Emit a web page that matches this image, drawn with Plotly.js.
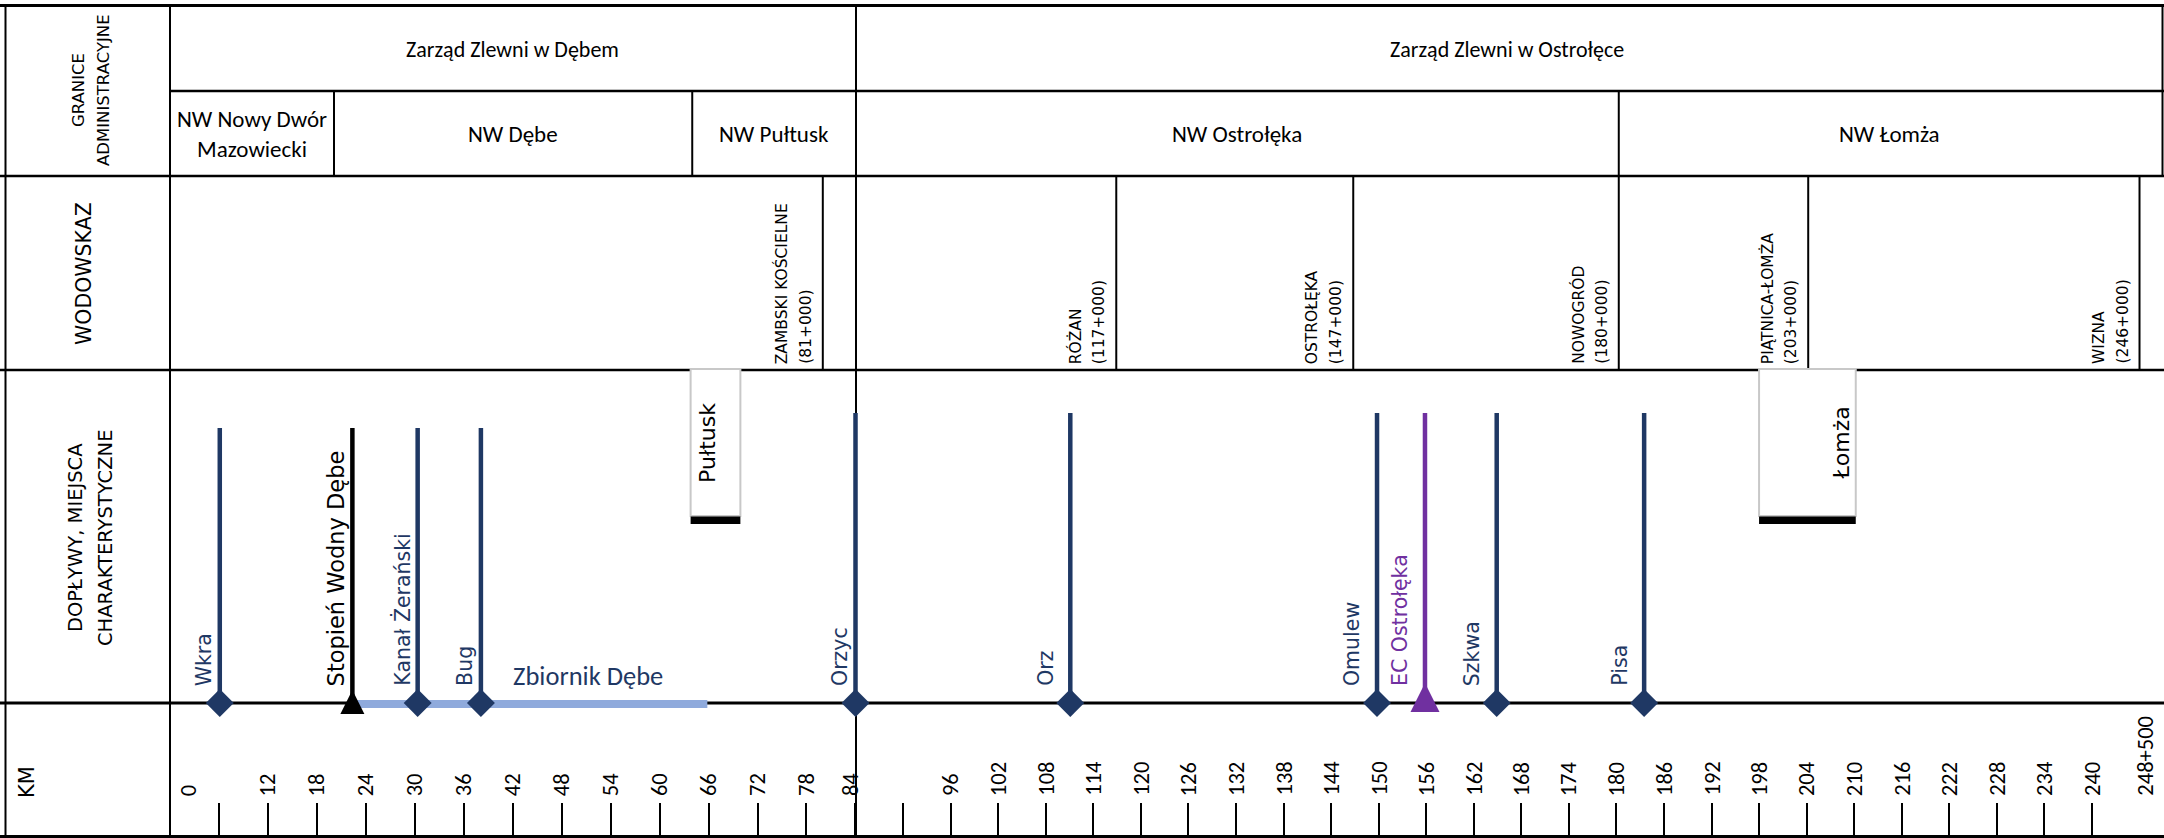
<!DOCTYPE html>
<html>
<head>
<meta charset="utf-8">
<script src="https://cdn.plot.ly/plotly-3.0.1.min.js"></script>
<style>
html,body{margin:0;padding:0;background:#ffffff;}
#chart{width:2164px;height:838px;}
</style>
</head>
<body>
<div id="chart"></div>
<script>
// ================= DATA =================
const zarzadNames = ['Zarząd Zlewni w Dębem', 'Zarząd Zlewni w Ostrołęce'];
const zarzadStartKm = [0, 84];
const zarzadEndKm = [84, 248.5];

const nwNames = ['NW Nowy Dwór<br>Mazowiecki', 'NW Dębe', 'NW Pułtusk', 'NW Ostrołęka', 'NW Łomża'];
const nwStartKm = [0, 20.1, 64.0, 84, 180.3];
const nwEndKm = [20.1, 64.0, 84, 180.3, 248.5];

const stationNames = ['ZAMBSKI KOŚCIELNE', 'RÓŻAN', 'OSTROŁĘKA', 'NOWOGRÓD', 'PIĄTNICA-ŁOMŻA', 'WIZNA'];
const stationKmLabels = ['(81+000)', '(117+000)', '(147+000)', '(180+000)', '(203+000)', '(246+000)'];
const stationKm = [80.0, 116.9, 146.8, 180.3, 204.2, 246.0];

const tribLeftNames = ['Wkra', 'Kanał Żerański', 'Bug'];
const tribLeftKm = [6.1, 30.35, 38.1];
const tribRightNames = ['Orzyc', 'Orz', 'Omulew', 'Szkwa', 'Pisa'];
const tribRightKm = [84.0, 111.1, 149.8, 164.9, 183.5];

const damNames = ['Stopień Wodny Dębe'];
const damKm = [22.35];
const plantNames = ['EC Ostrołęka'];
const plantKm = [155.85];

const reservoirNames = ['Zbiornik Dębe'];
const reservoirStartKm = [22.35];
const reservoirEndKm = [65.85];
const reservoirLabelKm = [51.2];

const townNames = ['Pułtusk', 'Łomża'];
const townStartKm = [63.8, 198.0];
const townEndKm = [69.9, 210.2];
const townLabelKm = [65.8, 208.4];

const kmTicksLeft = [6, 12, 18, 24, 30, 36, 42, 48, 54, 60, 66, 72, 78, 84];
const kmTicksRight = [90, 96, 102, 108, 114, 120, 126, 132, 138, 144, 150, 156, 162, 168, 174, 180, 186, 192, 198, 204, 210, 216, 222, 228, 234, 240];
const kmLabelsLeft = ['0', '12', '18', '24', '30', '36', '42', '48', '54', '60', '66', '72', '78', '84'];
const kmLabelPosLeft = [2.3, 12, 18, 24, 30, 36, 42, 48, 54, 60, 66, 72, 78, 83.4];
const kmLabelsRight = ['96', '102', '108', '114', '120', '126', '132', '138', '144', '150', '156', '162', '168', '174', '180', '186', '192', '198', '204', '210', '216', '222', '228', '234', '240', '248+500'];
const kmLabelPosRight = [96, 102, 108, 114, 120, 126, 132, 138, 144, 150, 156, 162, 168, 174, 180, 186, 192, 198, 204, 210, 216, 222, 228, 234, 240, 246.65];

// ================= LAYOUT CONSTANTS =================
const W = 2164, H = 838;
const NAVY = '#1F3864', PURPLE = '#7030A0', LIGHTBLUE = '#8FAADC', BOXGRAY = '#C8C8C8';
const FV = '"DejaVu Sans", Verdana, sans-serif';
const FC = 'Carlito, Lato, "Open Sans", sans-serif';

const Y_TOP = 5.5, Y_R1 = 91, Y_R2 = 176, Y_R3 = 370, Y_R4 = 703, Y_BOT = 836.5;
const X_LEFT = 5.5, X_COL = 170, X_DIV = 856, X_RIGHT = 2162.5;
const TICK_Y = 802;

const L0 = 170, LK = 8.16;      // px of km 0, px per km (left chart)
const R84 = 855.5, RK = 7.926;  // px of km 84, px per km (right chart)
const xDomPx = [150, 870], x2DomPx = [840, 2164];
const xRange = xDomPx.map(p => (p - L0) / LK);
const x2Range = x2DomPx.map(p => 84 + (p - R84) / RK);
const axFor = km => (km < 84 ? 'x' : 'x2');
const px = v => v / W;
const py = v => 1 - v / H;

// ================= TRACES =================
const traces = [];
function vlines(kms, y0, y1) {
  const xs = [], ys = [];
  kms.forEach(k => { xs.push(k, k, null); ys.push(y0, y1, null); });
  return {xs, ys};
}
reservoirNames.forEach((n, i) => {
  traces.push({type: 'scatter', mode: 'lines', xaxis: 'x', yaxis: 'y',
    x: [reservoirStartKm[i], reservoirEndKm[i]], y: [Y_R4 + 1, Y_R4 + 1],
    line: {color: LIGHTBLUE, width: 8}, hoverinfo: 'skip'});
});
let v = vlines(tribLeftKm, 428, Y_R4);
traces.push({type: 'scatter', mode: 'lines', xaxis: 'x', yaxis: 'y', x: v.xs, y: v.ys,
  line: {color: NAVY, width: 4.5}, hoverinfo: 'skip'});
v = vlines(damKm, 428, Y_R4 - 8);
traces.push({type: 'scatter', mode: 'lines', xaxis: 'x', yaxis: 'y', x: v.xs, y: v.ys,
  line: {color: '#000000', width: 4.5}, hoverinfo: 'skip'});
v = vlines(tribRightKm, 413, Y_R4);
traces.push({type: 'scatter', mode: 'lines', xaxis: 'x2', yaxis: 'y', x: v.xs, y: v.ys,
  line: {color: NAVY, width: 4.5}, hoverinfo: 'skip'});
v = vlines(plantKm, 413, Y_R4 - 10);
traces.push({type: 'scatter', mode: 'lines', xaxis: 'x2', yaxis: 'y', x: v.xs, y: v.ys,
  line: {color: PURPLE, width: 4.5}, hoverinfo: 'skip'});
traces.push({type: 'scatter', mode: 'markers', xaxis: 'x', yaxis: 'y', cliponaxis: false,
  x: tribLeftKm, y: tribLeftKm.map(() => Y_R4),
  marker: {symbol: 'diamond', size: 21.5, color: NAVY}, hoverinfo: 'skip'});
traces.push({type: 'scatter', mode: 'markers', xaxis: 'x2', yaxis: 'y', cliponaxis: false,
  x: tribRightKm, y: tribRightKm.map(() => Y_R4),
  marker: {symbol: 'diamond', size: 21.5, color: NAVY}, hoverinfo: 'skip'});
traces.push({type: 'scatter', mode: 'markers', xaxis: 'x', yaxis: 'y', cliponaxis: false,
  x: damKm, y: damKm.map(() => 690),
  marker: {symbol: 'arrow-up', size: 24, color: '#000000'}, hoverinfo: 'skip'});
traces.push({type: 'scatter', mode: 'markers', xaxis: 'x2', yaxis: 'y', cliponaxis: false,
  x: plantKm, y: plantKm.map(() => 683),
  marker: {symbol: 'arrow-up', size: 29, color: PURPLE}, hoverinfo: 'skip'});
townNames.forEach((n, i) => {
  const mid = (townStartKm[i] + townEndKm[i]) / 2, wd = townEndKm[i] - townStartKm[i];
  const ax = axFor(mid);
  traces.push({type: 'bar', xaxis: ax, yaxis: 'y', x: [mid], width: [wd], base: [369], y: [147],
    marker: {color: '#ffffff', line: {color: BOXGRAY, width: 2}}, hoverinfo: 'skip'});
  traces.push({type: 'bar', xaxis: ax, yaxis: 'y', x: [mid], width: [wd], base: [516.5], y: [7.5],
    marker: {color: '#000000', line: {width: 0}}, hoverinfo: 'skip'});
});

// ================= SHAPES (table) =================
const shapes = [];
function pline(x0, y0, x1, y1, w) {
  shapes.push({type: 'line', xref: 'paper', yref: 'paper', x0: px(x0), x1: px(x1), y0: py(y0), y1: py(y1),
    line: {color: '#000000', width: w}, layer: 'below'});
}
pline(0, Y_TOP, W, Y_TOP, 3);
pline(X_COL, Y_R1, W, Y_R1, 2.5);
pline(0, Y_R2, W, Y_R2, 2.5);
pline(0, Y_R3, W, Y_R3, 2.5);
pline(0, Y_R4, W, Y_R4, 3);
pline(0, Y_BOT, W, Y_BOT, 3);
pline(X_LEFT, Y_TOP, X_LEFT, Y_BOT, 2);
pline(X_COL, Y_TOP, X_COL, Y_BOT, 2);
pline(X_DIV, Y_TOP, X_DIV, Y_BOT, 2);
pline(X_RIGHT, Y_TOP, X_RIGHT, Y_R2, 2);
nwStartKm.forEach(k => {
  if (k > 0 && k !== 84) shapes.push({type: 'line', xref: axFor(k), yref: 'y', x0: k, x1: k, y0: Y_R1, y1: Y_R2,
    line: {color: '#000000', width: 2}, layer: 'below'});
});
stationKm.forEach(k => {
  shapes.push({type: 'line', xref: axFor(k), yref: 'y', x0: k, x1: k, y0: Y_R2, y1: Y_R3,
    line: {color: '#000000', width: 2}, layer: 'below'});
});

// ================= ANNOTATIONS =================
const annotations = [];
function ann(o) {
  annotations.push(Object.assign({showarrow: false, yref: 'y', borderpad: 0,
    xanchor: 'center', yanchor: 'middle'}, o));
}
ann({xref: 'paper', x: px(78), y: 90, text: 'GRANICE', textangle: -90, font: {family: FV, size: 16.5, color: '#000'}});
ann({xref: 'paper', x: px(103), y: 90, text: 'ADMINISTRACYJNE', textangle: -90, font: {family: FV, size: 16.5, color: '#000'}});
ann({xref: 'paper', x: px(84), y: 274, text: 'WODOWSKAZ', textangle: -90, font: {family: FV, size: 20.5, color: '#000'}});
ann({xref: 'paper', x: px(75), y: 538, text: 'DOPŁYWY, MIEJSCA', textangle: -90, font: {family: FV, size: 19.5, color: '#000'}});
ann({xref: 'paper', x: px(105), y: 538, text: 'CHARAKTERYSTYCZNE', textangle: -90, font: {family: FV, size: 19.5, color: '#000'}});
ann({xref: 'paper', x: px(27), y: 782, text: 'KM', textangle: -90, font: {family: FV, size: 21, color: '#000'}});
zarzadNames.forEach((n, i) => {
  const mid = (zarzadStartKm[i] + zarzadEndKm[i]) / 2;
  ann({xref: axFor(mid), x: mid, y: 49, text: n, font: {family: FC, size: 22, color: '#000'}});
});
nwNames.forEach((n, i) => {
  const mid = (nwStartKm[i] + nwEndKm[i]) / 2;
  ann({xref: axFor(mid), x: mid, y: 134, text: n, font: {family: FC, size: 23, color: '#000'}});
});
stationNames.forEach((n, i) => {
  const k = stationKm[i];
  ann({xref: axFor(k), x: k, xshift: -41, y: 365, yanchor: 'bottom', text: n, textangle: -90,
    font: {family: FV, size: 15.5, color: '#000'}});
  ann({xref: axFor(k), x: k, xshift: -17, y: 365, yanchor: 'bottom', text: stationKmLabels[i], textangle: -90,
    font: {family: FV, size: 15.5, color: '#000'}});
});
tribLeftNames.forEach((n, i) => {
  ann({xref: 'x', x: tribLeftKm[i], xshift: -16, y: 687, yanchor: 'bottom', text: n, textangle: -90,
    font: {family: FV, size: 20.5, color: NAVY}});
});
const rightShift = [-16, -25, -25, -25, -25];
tribRightNames.forEach((n, i) => {
  ann({xref: 'x2', x: tribRightKm[i], xshift: rightShift[i], y: 687, yanchor: 'bottom', text: n, textangle: -90,
    font: {family: FV, size: 20.5, color: NAVY}});
});
damNames.forEach((n, i) => {
  ann({xref: 'x', x: damKm[i], xshift: -16, y: 687, yanchor: 'bottom', text: n, textangle: -90,
    font: {family: FV, size: 22.5, color: '#000'}});
});
plantNames.forEach((n, i) => {
  ann({xref: 'x2', x: plantKm[i], xshift: -25, y: 687, yanchor: 'bottom', text: n, textangle: -90,
    font: {family: FV, size: 20.5, color: PURPLE}});
});
reservoirNames.forEach((n, i) => {
  ann({xref: 'x', x: reservoirLabelKm[i], y: 676, text: n, font: {family: FC, size: 26.5, color: NAVY}});
});
townNames.forEach((n, i) => {
  ann({xref: axFor(townLabelKm[i]), x: townLabelKm[i], y: 443, text: n, textangle: -90,
    font: {family: FV, size: 22, color: '#000'}});
});
// km labels (placed on the paper with the same km scale as the left/right axes)
kmLabelsLeft.forEach((t, i) => {
  ann({xref: 'paper', x: px(L0 + kmLabelPosLeft[i] * LK), y: 797, yanchor: 'bottom', text: t, textangle: -90,
    font: {family: FC, size: 22.5, color: '#000'}});
});
kmLabelsRight.forEach((t, i) => {
  ann({xref: 'x2', x: kmLabelPosRight[i], y: 797, yanchor: 'bottom', text: t, textangle: -90,
    font: {family: FC, size: 22.5, color: '#000'}});
});

// ================= AXES =================
const axCommon = {showgrid: false, zeroline: false, showline: false, fixedrange: true,
  anchor: 'free', position: 1 - TICK_Y / H, side: 'top', ticks: 'inside', ticklen: 35, tickwidth: 2,
  tickcolor: '#000000', tickmode: 'array', showticklabels: false};

const layout = {
  width: W, height: H, margin: {l: 0, r: 0, t: 0, b: 0, pad: 0},
  paper_bgcolor: '#ffffff', plot_bgcolor: 'rgba(0,0,0,0)', showlegend: false,
  barmode: 'overlay', hovermode: false,
  xaxis: Object.assign({}, axCommon, {domain: [px(xDomPx[0]), px(xDomPx[1])], range: xRange, tickvals: kmTicksLeft}),
  xaxis2: Object.assign({}, axCommon, {domain: [px(x2DomPx[0]), px(x2DomPx[1])], range: x2Range, tickvals: kmTicksRight}),
  yaxis: {domain: [0, 1], range: [H, 0], visible: false, fixedrange: true},
  shapes: shapes,
  annotations: annotations
};

Plotly.newPlot('chart', traces, layout, {staticPlot: true, displayModeBar: false});
</script>
</body>
</html>
